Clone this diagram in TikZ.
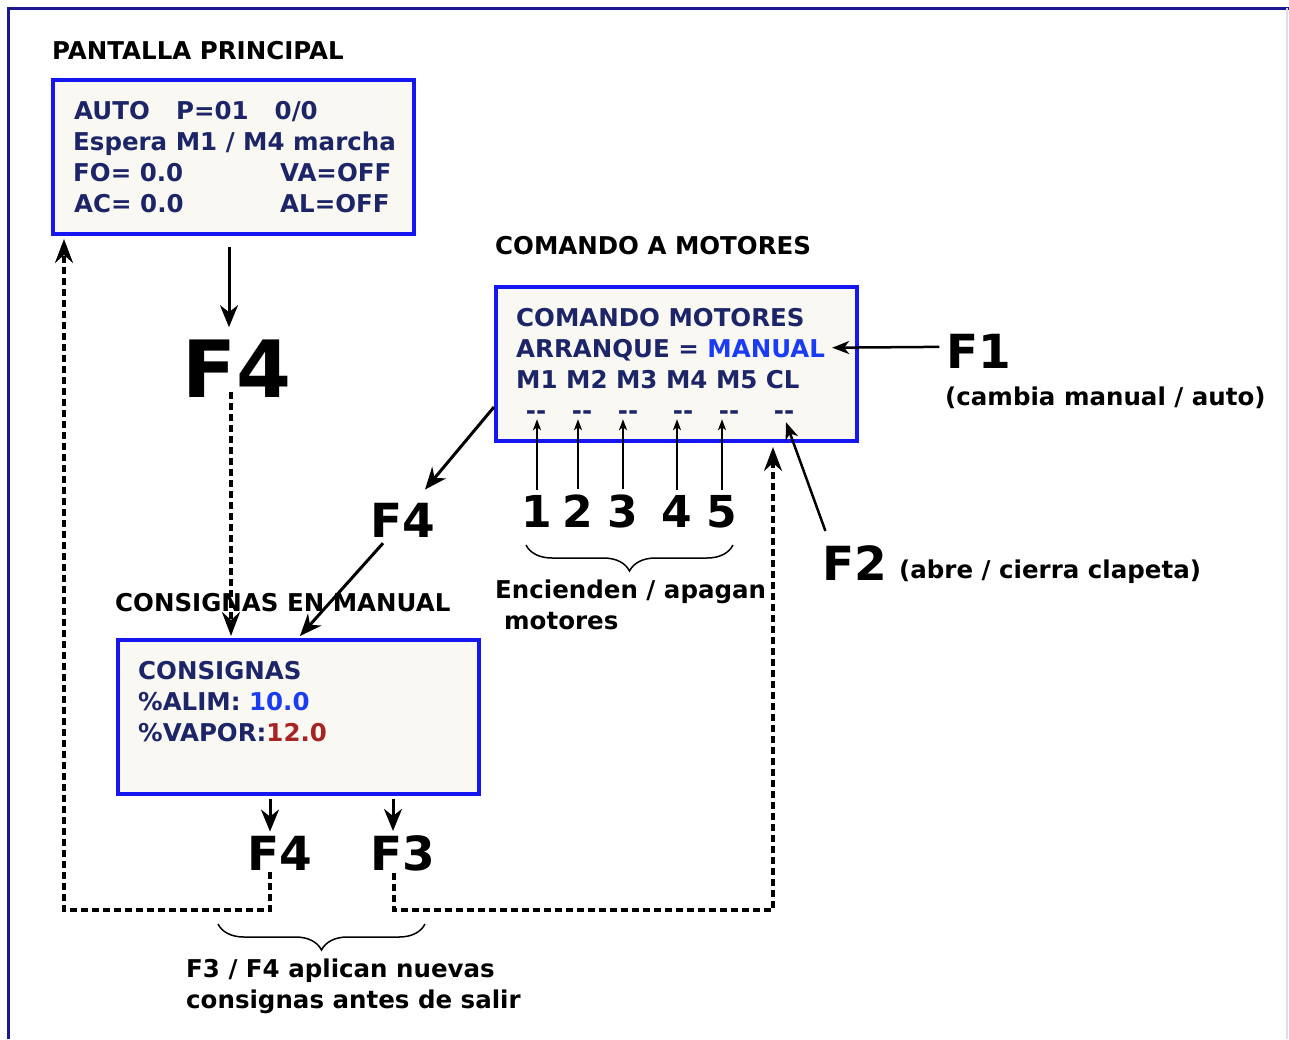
\documentclass[tikz,border=0pt]{standalone}
\usepackage{fontspec}
\setmainfont{DejaVu Sans}
\usepackage{tikz}
\usetikzlibrary{arrows.meta}
\usetikzlibrary{decorations.pathreplacing}

\definecolor{lcdnavy}{RGB}{27,37,103}
\definecolor{lcdblue}{RGB}{26,60,245}
\definecolor{lcdred}{RGB}{168,36,36}
\definecolor{lcdframe}{RGB}{22,22,240}
\definecolor{lcdfill}{RGB}{249,248,242}
\definecolor{pageblue}{RGB}{25,25,140}
\definecolor{pageedge}{RGB}{220,220,240}

\begin{document}
\begin{tikzpicture}[x=1pt, y=-1pt,
  screen/.style={draw=lcdframe, fill=lcdfill, line width=4pt, minimum width=361pt, minimum height=154pt, inner sep=0pt},
  lcd/.style={anchor=base west, inner sep=0pt, text=lcdnavy, font=\fontsize{24.5}{30}\selectfont\bfseries},
  txt/.style={anchor=base west, inner sep=0pt, font=\fontsize{24.5}{30}\selectfont\bfseries},
  key/.style={anchor=base, inner sep=0pt, font=\fontsize{47}{50}\selectfont\bfseries},
  arr/.style={line width=3pt, -{Stealth[length=22pt, width=18pt, inset=7pt]}},
  sarr/.style={line width=2.5pt, -{Stealth[length=17pt, width=13pt, inset=5pt]}},
  darr/.style={line width=3.5pt, dash pattern=on 7pt off 4pt, -{Stealth[length=24pt, width=18pt, inset=8pt]}},
  numarr/.style={line width=2pt, -{Stealth[length=11pt, width=8pt, inset=3pt]}},
  curly/.style={line width=1.5pt, decorate, decoration={brace, mirror, amplitude=26pt}}]
\useasboundingbox (0,0) rectangle (1289,1039);
\draw[pageblue, line width=3pt] (8,1039) -- (8,8) -- (1289,8);
\draw[pageedge, line width=2pt] (1287,8) -- (1287,1039);

% pantalla principal
\node[txt] (tpant) at (52,59) {PANTALLA PRINCIPAL};
\node[screen] (pant) at (233.5,157) {};
\node[lcd] (p1a) at (74,119) {AUTO};
\node[lcd] (p1b) at (176,119) {P=01};
\node[lcd] (p1c) at (274.5,119) {0/0};
\node[lcd] (p2) at (73,150) {Espera M1 / M4 marcha};
\node[lcd] (p3a) at (73,181) {FO= 0.0};
\node[lcd] (p3b) at (280,181) {VA=OFF};
\node[lcd] (p4a) at (74,212) {AC= 0.0};
\node[lcd] (p4b) at (280,212) {AL=OFF};

% comando a motores
\node[txt] (tcmd) at (495,254) {COMANDO A MOTORES};
\node[screen] (cmd) at (676.5,364) {};
\node[lcd] (c1) at (516,326) {COMANDO MOTORES};
\node[lcd] (c2) at (516,357) {ARRANQUE = \textcolor{lcdblue}{MANUAL}};
\node[lcd] (c3) at (516,388) {M1 M2 M3 M4 M5 CL};
\foreach \x [count=\i] in {536,582,628,683,729,784}
  \node[lcd, anchor=base] (d\i) at (\x,419) {-\kern0pt-};

% motores 1..5
\foreach \x [count=\i] in {537,578,623,677,722}
  \node[key, font=\fontsize{44}{46}\selectfont\bfseries] (n\i) at (\x,527) {\i};
\foreach \i in {1,...,5}
  \draw[numarr] ([yshift=5pt]n\i.north) -- (n\i.north |- d\i.south);
\draw[curly] (526,545) -- (733,545);
\node[txt] (enc1) at (495,598) {Encienden / apagan};
\node[txt] (enc2) at (504,629) {motores};

% F1 y F2
\node[key] (f1) at (979,368) {F1};
\node[txt] (f1t) at (945,405) {(cambia manual / auto)};
\draw[sarr] ([xshift=-7pt,yshift=4pt]f1.west) -- ([xshift=7pt,yshift=2pt]c2.east);
\node[key] (f2) at (855,580) {F2};
\node[txt] (f2t) at (899,578) {(abre / cierra clapeta)};
\draw[sarr] ([xshift=3pt,yshift=14pt]f2.north west) -- ([xshift=2pt,yshift=-3pt]d6.south);

% consignas en manual
\node[txt] (tcons) at (115,611) {CONSIGNAS EN MANUAL};
\node[screen] (cons) at (298.5,717) {};
\node[lcd] (s1) at (138,679) {CONSIGNAS};
\node[lcd] (s2) at (138,710) {\%ALIM: \textcolor{lcdblue}{10.0}};
\node[lcd] (s3) at (138,741) {\%VAPOR:\textcolor{lcdred}{12.0}};

% F4 desde pantalla principal
\node[key, font=\fontsize{79}{80}\selectfont\bfseries] (bigf) at (237,397) {F4};
\draw[arr] ([xshift=-4.5pt,yshift=-11pt]pant.south) -- ([xshift=-8pt,yshift=12pt]bigf.north);
\draw[darr] ([xshift=-6pt,yshift=5pt]bigf.south) -- ([xshift=-67.5pt,yshift=2pt]cons.north);

% F4 desde comando
\node[key] (f4b) at (403,537) {F4};
\draw[arr] ([yshift=-43pt]cmd.west) -- ([xshift=22pt,yshift=13pt]f4b.north);
\draw[arr] ([xshift=-20pt,yshift=-6pt]f4b.south) -- ([xshift=1.5pt,yshift=2pt]cons.north);

% salida F4 / F3
\node[key] (f4c) at (279.5,870) {F4};
\node[key] (f3c) at (402.5,870) {F3};
\draw[arr] ([xshift=-28.5pt,yshift=-3pt]cons.south) -- ([xshift=-9.5pt,yshift=4pt]f4c.north);
\draw[arr] ([xshift=94.5pt,yshift=-3pt]cons.south) -- ([xshift=-9.5pt,yshift=4pt]f3c.north);
\coordinate (retL) at (64,910);
\coordinate (retR) at (773,910);
\draw[darr, shorten >=3pt] ([xshift=-9.5pt,yshift=-2pt]f4c.south) |- (retL) -- (retL |- pant.south);
\draw[darr, shorten >=4pt] ([xshift=-8.5pt,yshift=-2pt]f3c.south) |- (retR) -- (retR |- cmd.south);
\draw[curly] (218,924) -- (425,924);
\node[txt] (app1) at (186,977) {F3 / F4 aplican nuevas};
\node[txt] (app2) at (186,1008) {consignas antes de salir};
\end{tikzpicture}
\end{document}
